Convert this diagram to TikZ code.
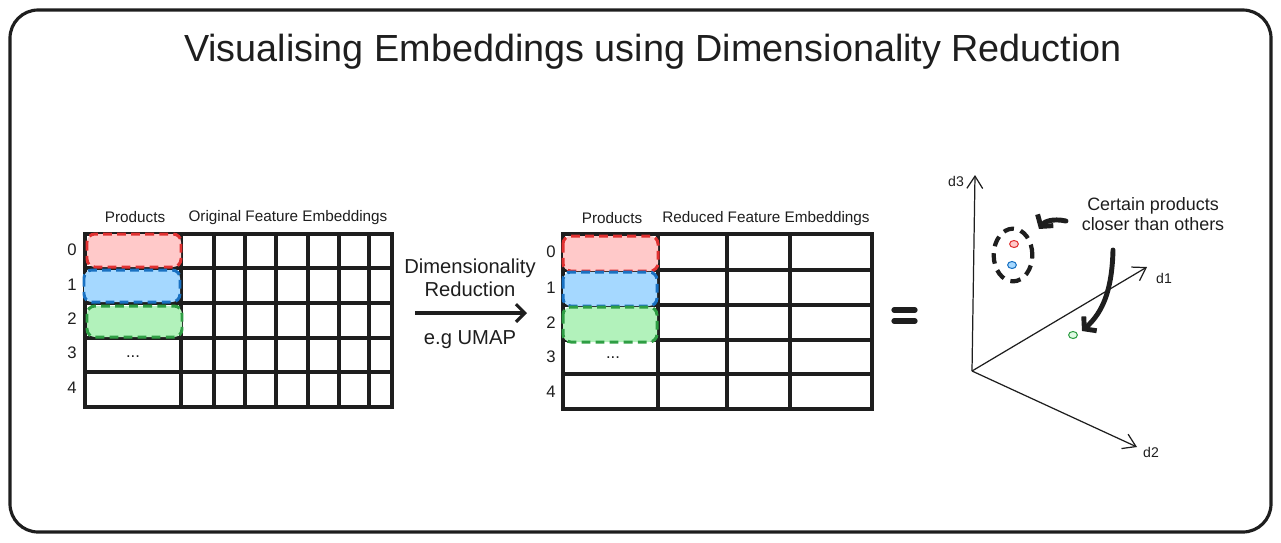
\documentclass[tikz,border=0pt]{standalone}
\usepackage{fontspec}
\setmainfont{Liberation Sans}
\usetikzlibrary{arrows.meta,shapes.geometric}

\definecolor{pred}{HTML}{E03131}
\definecolor{pfillred}{HTML}{FFC9C9}
\definecolor{pblue}{HTML}{1971C2}
\definecolor{pfillblue}{HTML}{A5D8FF}
\definecolor{pgreen}{HTML}{2F9E44}
\definecolor{pfillgreen}{HTML}{B2F2BB}
\definecolor{ink}{HTML}{1E1E1E}

\begin{document}
\begin{tikzpicture}[x=0.02cm,y=-0.02cm,
    tblline/.style={line width=2pt,draw=ink,line cap=round},
    prodbox/.style={line width=1.7pt,dash pattern=on 5pt off 3pt,rounded corners=4.5pt},
    hdr/.style={font=\fontsize{8.7}{10}\selectfont,text=ink},
    rowlab/.style={font=\fontsize{9.5}{11}\selectfont,text=ink},
    axlab/.style={font=\fontsize{8}{10}\selectfont,text=ink},
    dimaxis/.style={line width=0.7pt,draw=ink,-{Straight Barb[length=7pt,width=9pt]}},
    ptdot/.style={ellipse,minimum width=5pt,minimum height=4pt,inner sep=0pt,line width=0.6pt},
    bigarrow/.style={line width=2.8pt,draw=ink,line cap=round,-{Straight Barb[length=4.5pt,width=11pt]}}]

    \useasboundingbox (0,0) rectangle (1281,542);
    \draw[line width=1.8pt,draw=ink,rounded corners=16pt] (10,10) rectangle (1271,532);

    \node[font=\fontsize{21.5}{25}\selectfont,text=ink] (title) at (653,52) {Visualising Embeddings using Dimensionality Reduction};

    % original embeddings table
    \draw[tblline] (85,234) rectangle (392,407);
    \foreach \y in {268,303,338,372} \draw[tblline] (85,\y) -- (392,\y);
    \foreach \x in {181,214,245,276,308,339,369} \draw[tblline] (\x,234) -- (\x,407);
    \draw[prodbox,draw=pred,fill=pfillred] (87,234) rectangle (181,267);
    \draw[prodbox,draw=pblue,fill=pfillblue] (84,270) rectangle (180,302);
    \draw[prodbox,draw=pgreen,fill=pfillgreen] (87,306) rectangle (182,337);
    \node[rowlab] (ldots) at (133,357) {...};

    \node[hdr] (lprod) at (135,217) {Products};
    \node[hdr] (lorig) at (288,218) {Original Feature Embeddings};
    \foreach \i/\y in {0/250,1/285,2/319,3/353,4/388}
        \node[rowlab] (lrow\i) at (72,\y) {\i};

    % reduction arrow
    \node[font=\fontsize{11.5}{13}\selectfont,align=center,text=ink] (dimred) at (470,278) {Dimensionality\\Reduction};
    \coordinate (arrs) at (415,313);
    \coordinate (arre) at (527,313);
    \draw[line width=1.8pt,draw=ink,-{Straight Barb[length=5pt,width=10pt]}] (arrs) -- (arre);
    \node[font=\fontsize{11.5}{13}\selectfont,text=ink] (umap) at (470,340) {e.g UMAP};

    % reduced embeddings table
    \draw[tblline] (563,234) rectangle (872,409);
    \foreach \y in {270,305,340,374} \draw[tblline] (563,\y) -- (872,\y);
    \foreach \x in {658,727,790} \draw[tblline] (\x,234) -- (\x,409);
    \draw[prodbox,draw=pred,fill=pfillred] (563,236) rectangle (658,271);
    \draw[prodbox,draw=pblue,fill=pfillblue] (563,272) rectangle (657,306);
    \draw[prodbox,draw=pgreen,fill=pfillgreen] (563,307) rectangle (657,342);
    \node[rowlab] (rdots) at (613,358) {...};

    \node[hdr] (rprod) at (612,218) {Products};
    \node[hdr] (rred) at (766,219) {Reduced Feature Embeddings};
    \foreach \i/\y in {0/252,1/288,2/323,3/357,4/392}
        \node[rowlab] (rrow\i) at (551,\y) {\i};

    % equals
    \draw[line width=3pt,draw=ink,line cap=round] (894,310) -- (915,310);
    \draw[line width=3pt,draw=ink,line cap=round] (894,321) -- (915,321);

    % 3d space
    \coordinate (orig) at (972,371);
    \coordinate (d3tip) at (975,175);
    \coordinate (d1tip) at (1147,267);
    \coordinate (d2tip) at (1137,447);
    \draw[dimaxis] (orig) -- (d3tip);
    \draw[dimaxis] (orig) -- (d1tip);
    \draw[dimaxis] (orig) -- (d2tip);
    \node[axlab] (d3lab) at (956,181) {d3};
    \node[axlab] (d1lab) at (1164,278) {d1};
    \node[axlab] (d2lab) at (1151,452) {d2};

    \node[ellipse,draw=ink,line width=2.4pt,dash pattern=on 6pt off 4pt,minimum width=22pt,minimum height=30pt] (group) at (1013,255) {};
    \node[ptdot,draw=pred,fill=pfillred] (redpt) at (1014,244) {};
    \node[ptdot,draw=pblue,fill=pfillblue] (bluept) at (1012,265) {};
    \node[ptdot,draw=pgreen,fill=pfillgreen!40] (greenpt) at (1073,335) {};

    \node[font=\fontsize{10.2}{11.3}\selectfont,align=center,text=ink] (note) at (1153,214) {Certain products\\closer than others};
    \coordinate (h1s) at (1066,221);
    \coordinate (h1e) at (1039,229);
    \draw[bigarrow] (h1s) .. controls (1052,218) and (1044,222) .. (h1e);
    \coordinate (h2s) at (1113,250);
    \coordinate (h2e) at (1082,331);
    \draw[bigarrow] (h2s) .. controls (1112,290) and (1103,312) .. (h2e);
\end{tikzpicture}
\end{document}
